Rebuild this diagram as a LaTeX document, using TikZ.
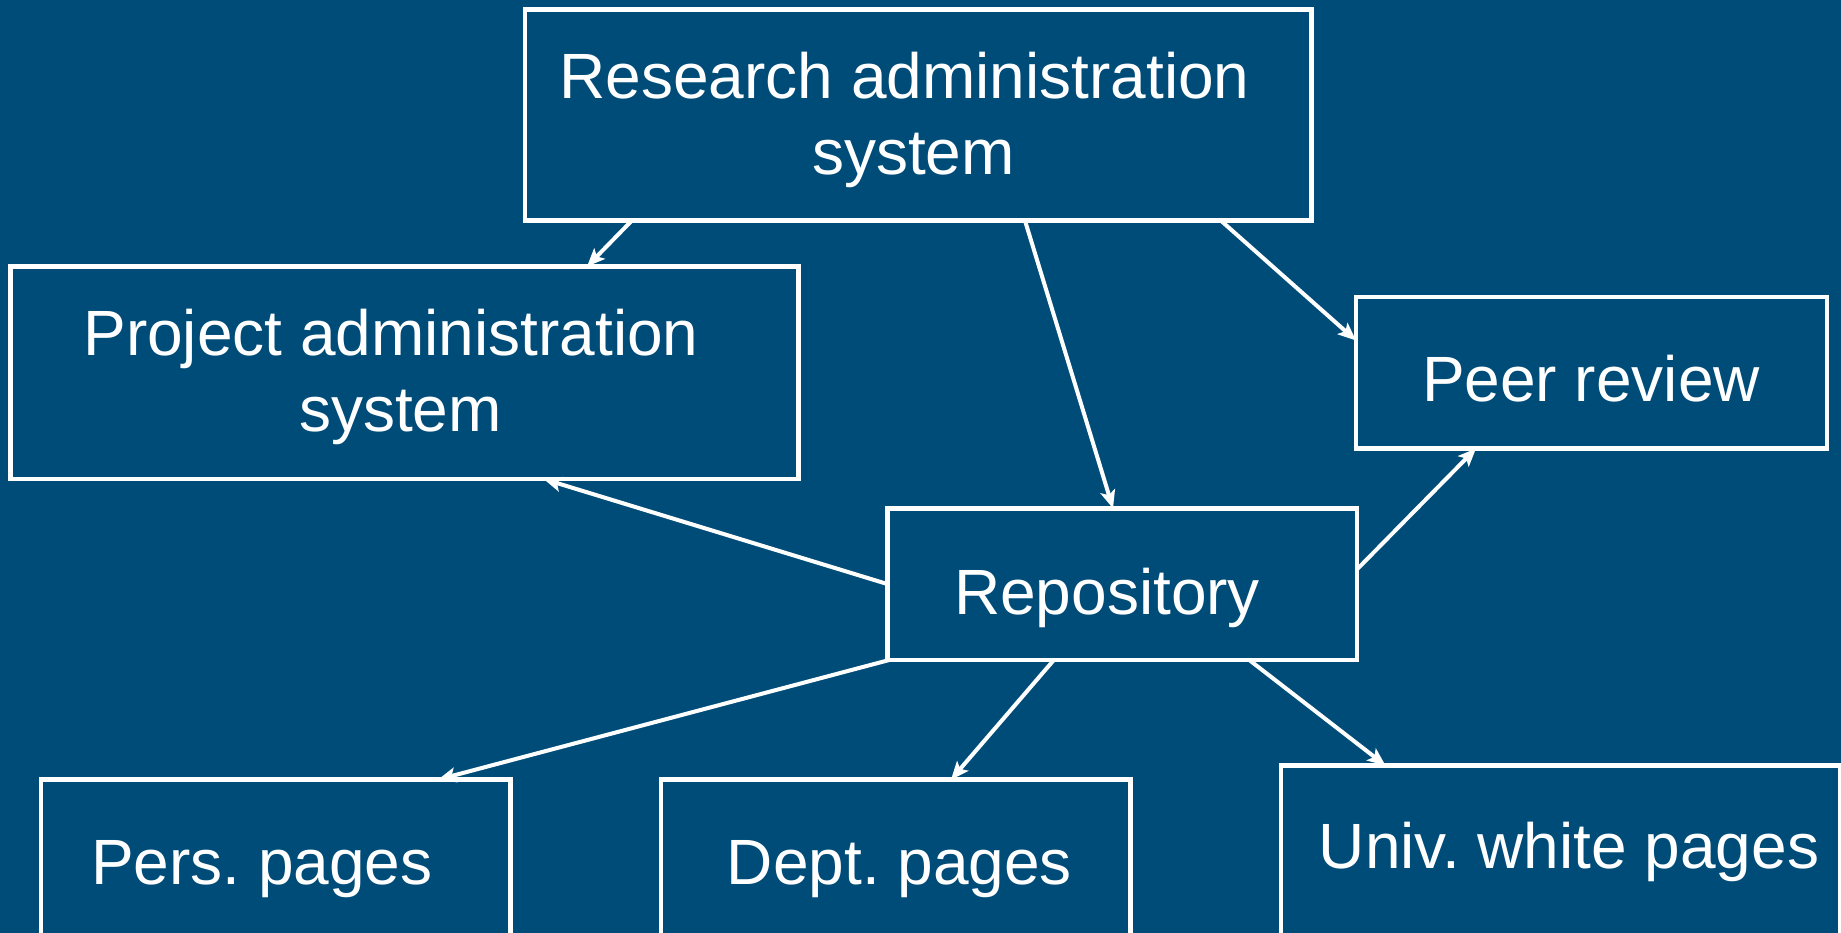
\documentclass[tikz,border=0pt]{standalone}
\usepackage{fontspec}
\setmainfont{Liberation Sans}
\usetikzlibrary{arrows.meta}
\definecolor{bg}{RGB}{0,76,121}
\begin{document}
\frenchspacing
\begin{tikzpicture}[x=1pt,y=-1pt,
  box/.style={draw=white,line width=4.5pt,inner sep=0pt,outer sep=0pt,rectangle},
  txt/.style={text=white,inner sep=0pt,anchor=base,font=\fontsize{64}{76}\selectfont\frenchspacing},
  arr/.style={draw=white,line width=4pt,-{Stealth[length=18pt,width=15pt,inset=4pt]}}]
\useasboundingbox (0,0) rectangle (1841,933);
\fill[bg] (0,0) rectangle (1841,933);
\clip (0,0) rectangle (1841,933);
% boxes
\node[box,minimum width=786.5pt,minimum height=211.3pt] (res) at (918.25,115.05) {};
\node[box,minimum width=787.8pt,minimum height=212.5pt] (proj) at (404.5,372.75) {};
\node[box,minimum width=471pt,minimum height=151.5pt] (peer) at (1591.5,372.75) {};
\node[box,minimum width=469.4pt,minimum height=151.4pt] (repo) at (1122.3,584.1) {};
\node[box,minimum width=469.7pt,minimum height=170pt] (pers) at (275.85,864.6) {};
\node[box,minimum width=469.7pt,minimum height=170pt] (dept) at (895.85,864.6) {};
\node[box,minimum width=559pt,minimum height=184pt] (univ) at (1560.5,857.5) {};
% texts
\node[txt] (rest1) at (904.6,98.5) {Research administration};
\node[txt] (rest2) at (913.5,174.5) {system};
\node[txt] (projt1) at (391,355.5) {Project administration};
\node[txt] (projt2) at (400.4,431.5) {system};
\node[txt] (peert) at (1591,401.5) {Peer review};
\node[txt] (repot) at (1107,614) {Repository};
\node[txt] (perst) at (261.8,884) {Pers. pages};
\node[txt] (deptt) at (899.4,884) {Dept. pages};
\node[txt] (univt) at (1569,868.5) {Univ. white pages};
% connectors
\draw[arr] ([xshift=106.7pt]res.south west) -- ([xshift=576.4pt]proj.north west);
\draw[arr] ([xshift=500pt]res.south west) -- ([xshift=225.4pt]repo.north west);
\draw[arr] ([xshift=696pt]res.south west) -- ([yshift=-43.5pt]peer.north west);
\draw[arr] (repo.west) -- ([xshift=533pt]proj.south west);
\draw[arr] ([yshift=14.7pt]repo.east) -- ([xshift=120pt]peer.south west);
\draw[arr] ([xshift=2.4pt]repo.south west) -- ([xshift=397pt]pers.north west);
\draw[arr] ([xshift=166.4pt]repo.south west) -- ([xshift=290pt]dept.north west);
\draw[arr] ([xshift=361.4pt]repo.south west) -- ([xshift=104.5pt]univ.north west);
\end{tikzpicture}
\end{document}
